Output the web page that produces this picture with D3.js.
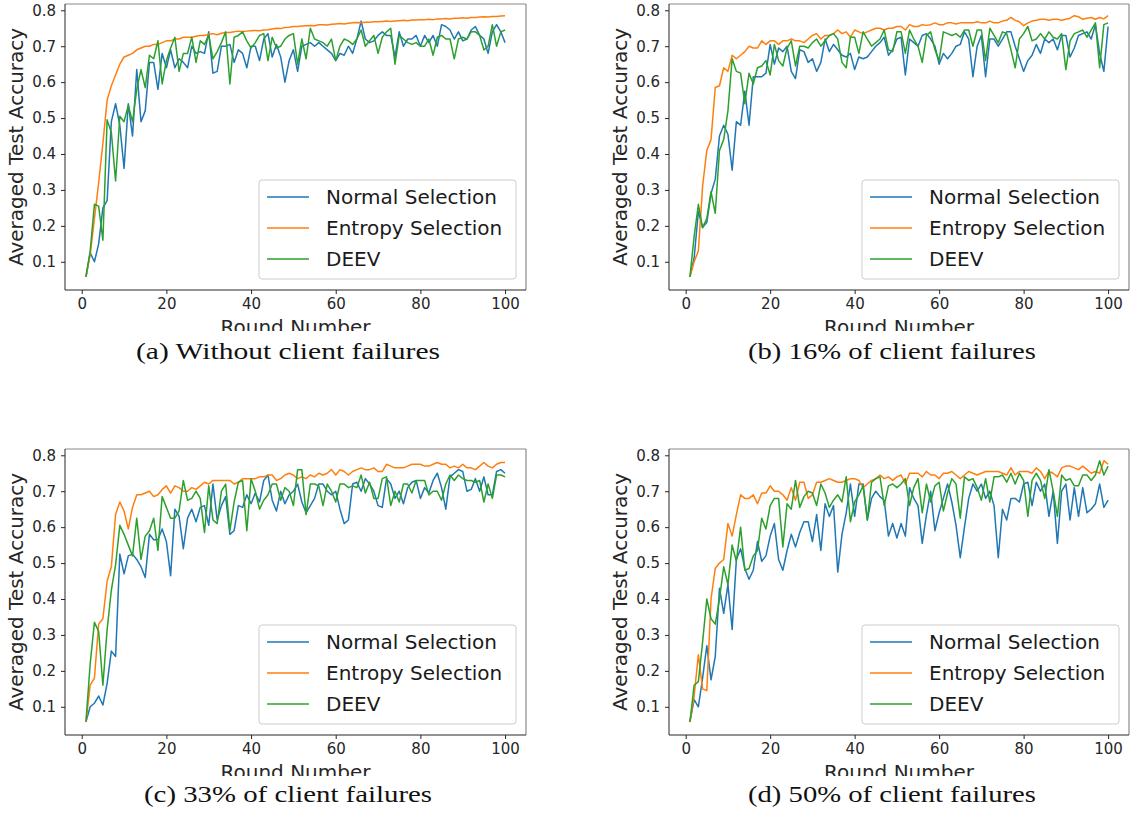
<!DOCTYPE html>
<html>
<head>
<meta charset="utf-8">
<script src="https://cdn.jsdelivr.net/npm/d3@7"></script>
<style>
  body { margin: 0; background: #fff; }
  svg { display: block; }
</style>
</head>
<body>
<div id="chart"></div>
<script>
// rounds on the x axis
const rounds = d3.range(1, 101);
const seriesNames = ["Normal Selection", "Entropy Selection", "DEEV"];
const seriesColors = ["#1f77b4", "#ff7f0e", "#2ca02c"];
const xTicks = [0, 20, 40, 60, 80, 100];
const yTicks = [0.1, 0.2, 0.3, 0.4, 0.5, 0.6, 0.7, 0.8];
const captions = [
  "(a) Without client failures",
  "(b) 16% of client failures",
  "(c) 33% of client failures",
  "(d) 50% of client failures"
];

// (a) without failures
const normalA = [0.058,0.125,0.10,0.15,0.25,0.27,0.49,0.54,0.48,0.36,
  0.54,0.45,0.635,0.49,0.52,0.655,0.655,0.58,0.68,0.64,
  0.69,0.64,0.665,0.655,0.64,0.70,0.68,0.685,0.68,0.74,
  0.625,0.63,0.70,0.70,0.705,0.655,0.69,0.68,0.64,0.70,
  0.70,0.66,0.72,0.735,0.67,0.705,0.67,0.60,0.66,0.69,
  0.63,0.70,0.705,0.71,0.70,0.71,0.70,0.69,0.68,0.66,
  0.68,0.675,0.70,0.68,0.72,0.77,0.72,0.71,0.715,0.73,
  0.74,0.73,0.73,0.67,0.74,0.70,0.72,0.72,0.73,0.70,
  0.73,0.71,0.73,0.70,0.76,0.755,0.745,0.72,0.74,0.715,
  0.72,0.745,0.755,0.73,0.72,0.68,0.74,0.76,0.74,0.71];
const entropyA = [0.058,0.12,0.22,0.32,0.43,0.55,0.59,0.62,0.65,0.67,
  0.675,0.68,0.69,0.695,0.70,0.70,0.705,0.705,0.71,0.715,
  0.715,0.72,0.72,0.725,0.725,0.725,0.728,0.73,0.73,0.733,
  0.735,0.732,0.736,0.738,0.738,0.74,0.742,0.741,0.742,0.743,
  0.744,0.743,0.745,0.746,0.748,0.75,0.749,0.752,0.753,0.755,
  0.755,0.756,0.757,0.758,0.757,0.76,0.76,0.759,0.761,0.762,
  0.763,0.762,0.764,0.765,0.766,0.765,0.767,0.767,0.768,0.768,
  0.769,0.77,0.769,0.77,0.771,0.772,0.771,0.773,0.773,0.774,
  0.774,0.775,0.774,0.776,0.776,0.777,0.776,0.778,0.778,0.779,
  0.778,0.78,0.78,0.781,0.782,0.781,0.783,0.783,0.784,0.785];
const deevA = [0.058,0.13,0.26,0.255,0.16,0.495,0.46,0.325,0.505,0.49,
  0.535,0.49,0.58,0.635,0.585,0.675,0.665,0.715,0.595,0.66,
  0.695,0.725,0.63,0.68,0.68,0.725,0.655,0.715,0.705,0.73,
  0.665,0.685,0.71,0.74,0.595,0.725,0.73,0.74,0.715,0.695,
  0.71,0.73,0.735,0.66,0.725,0.695,0.70,0.72,0.73,0.735,
  0.65,0.72,0.665,0.75,0.72,0.715,0.71,0.70,0.72,0.66,
  0.70,0.72,0.715,0.705,0.72,0.745,0.70,0.715,0.73,0.68,
  0.725,0.74,0.75,0.65,0.73,0.72,0.71,0.705,0.71,0.70,
  0.70,0.72,0.675,0.725,0.73,0.72,0.72,0.665,0.72,0.725,
  0.72,0.74,0.74,0.73,0.69,0.70,0.76,0.70,0.74,0.745];

// (b) 16% failures
const normalB = [0.058,0.11,0.24,0.195,0.21,0.29,0.33,0.45,0.48,0.455,
  0.355,0.49,0.48,0.575,0.48,0.615,0.615,0.615,0.625,0.705,
  0.65,0.695,0.685,0.70,0.63,0.61,0.69,0.685,0.655,0.665,
  0.63,0.655,0.72,0.685,0.705,0.69,0.675,0.67,0.68,0.635,
  0.67,0.665,0.67,0.685,0.70,0.71,0.725,0.675,0.69,0.72,
  0.725,0.62,0.72,0.71,0.70,0.73,0.735,0.72,0.70,0.65,
  0.68,0.665,0.68,0.70,0.705,0.74,0.72,0.615,0.70,0.73,
  0.615,0.72,0.72,0.70,0.72,0.74,0.74,0.70,0.665,0.63,
  0.66,0.675,0.705,0.68,0.72,0.71,0.72,0.69,0.73,0.73,
  0.67,0.695,0.73,0.735,0.74,0.72,0.76,0.68,0.63,0.755];
const entropyB = [0.058,0.10,0.13,0.31,0.41,0.44,0.585,0.59,0.64,0.63,
  0.675,0.665,0.675,0.685,0.70,0.695,0.695,0.715,0.705,0.715,
  0.715,0.705,0.715,0.715,0.72,0.715,0.715,0.71,0.72,0.73,
  0.735,0.72,0.73,0.73,0.735,0.745,0.735,0.74,0.725,0.745,
  0.74,0.735,0.74,0.745,0.75,0.75,0.745,0.75,0.75,0.755,
  0.755,0.745,0.76,0.755,0.755,0.76,0.758,0.76,0.765,0.76,
  0.76,0.765,0.765,0.762,0.765,0.765,0.765,0.765,0.768,0.765,
  0.765,0.77,0.765,0.765,0.77,0.772,0.78,0.772,0.768,0.757,
  0.765,0.77,0.772,0.775,0.775,0.772,0.775,0.775,0.772,0.775,
  0.778,0.785,0.782,0.775,0.778,0.78,0.775,0.78,0.776,0.785];
const deevB = [0.058,0.17,0.26,0.195,0.22,0.295,0.235,0.41,0.44,0.52,
  0.665,0.63,0.625,0.54,0.625,0.595,0.64,0.645,0.66,0.62,
  0.705,0.66,0.645,0.695,0.715,0.645,0.70,0.70,0.695,0.71,
  0.72,0.70,0.715,0.73,0.735,0.72,0.655,0.64,0.725,0.725,
  0.68,0.74,0.72,0.70,0.71,0.72,0.745,0.69,0.685,0.74,
  0.74,0.68,0.745,0.72,0.70,0.655,0.73,0.74,0.69,0.66,
  0.74,0.735,0.73,0.735,0.725,0.745,0.745,0.70,0.745,0.745,
  0.66,0.75,0.73,0.71,0.74,0.735,0.69,0.64,0.72,0.735,
  0.755,0.715,0.72,0.735,0.72,0.74,0.725,0.72,0.735,0.635,
  0.715,0.735,0.74,0.745,0.725,0.745,0.765,0.64,0.76,0.765];

// (c) 33% failures
const normalC = [0.058,0.10,0.11,0.13,0.105,0.165,0.255,0.24,0.525,0.47,
  0.52,0.525,0.51,0.49,0.46,0.58,0.565,0.565,0.595,0.56,
  0.465,0.65,0.63,0.54,0.625,0.65,0.615,0.655,0.66,0.605,
  0.72,0.62,0.66,0.685,0.58,0.59,0.66,0.655,0.69,0.665,
  0.695,0.67,0.73,0.745,0.675,0.645,0.70,0.665,0.69,0.70,
  0.72,0.67,0.64,0.66,0.68,0.72,0.72,0.70,0.69,0.70,
  0.65,0.61,0.62,0.72,0.725,0.70,0.735,0.72,0.70,0.66,
  0.655,0.735,0.72,0.68,0.70,0.665,0.71,0.725,0.73,0.68,
  0.71,0.695,0.73,0.75,0.71,0.65,0.74,0.75,0.76,0.755,
  0.70,0.705,0.735,0.70,0.74,0.69,0.69,0.755,0.76,0.75];
const entropyC = [0.058,0.16,0.18,0.33,0.345,0.45,0.49,0.635,0.67,0.645,
  0.595,0.655,0.69,0.69,0.695,0.70,0.685,0.69,0.705,0.715,
  0.695,0.715,0.71,0.70,0.70,0.71,0.705,0.715,0.725,0.72,
  0.73,0.73,0.73,0.73,0.73,0.72,0.725,0.735,0.735,0.735,
  0.735,0.74,0.74,0.745,0.745,0.73,0.735,0.745,0.75,0.745,
  0.735,0.74,0.735,0.745,0.74,0.75,0.745,0.75,0.76,0.745,
  0.76,0.755,0.745,0.755,0.76,0.765,0.76,0.76,0.765,0.755,
  0.755,0.775,0.77,0.765,0.765,0.765,0.77,0.775,0.775,0.775,
  0.77,0.77,0.775,0.78,0.775,0.775,0.765,0.77,0.765,0.775,
  0.765,0.765,0.76,0.77,0.78,0.77,0.765,0.775,0.78,0.78];
const deevC = [0.058,0.22,0.335,0.31,0.16,0.315,0.425,0.495,0.605,0.58,
  0.55,0.52,0.625,0.51,0.575,0.59,0.625,0.535,0.685,0.655,
  0.625,0.625,0.645,0.73,0.675,0.68,0.70,0.68,0.585,0.715,
  0.62,0.61,0.70,0.72,0.59,0.67,0.725,0.73,0.59,0.735,
  0.70,0.65,0.675,0.69,0.72,0.72,0.675,0.71,0.70,0.66,
  0.76,0.76,0.635,0.72,0.72,0.715,0.66,0.72,0.70,0.67,
  0.72,0.72,0.71,0.715,0.71,0.745,0.695,0.725,0.68,0.68,
  0.735,0.74,0.66,0.70,0.67,0.72,0.72,0.695,0.73,0.73,
  0.73,0.69,0.70,0.70,0.675,0.72,0.745,0.73,0.745,0.735,
  0.73,0.73,0.725,0.73,0.67,0.72,0.68,0.745,0.745,0.74];

// (d) 50% failures
const normalD = [0.058,0.12,0.10,0.18,0.27,0.175,0.24,0.43,0.36,0.44,
  0.315,0.51,0.54,0.485,0.455,0.48,0.56,0.505,0.52,0.575,
  0.61,0.51,0.48,0.535,0.58,0.545,0.585,0.615,0.615,0.56,
  0.635,0.535,0.665,0.63,0.66,0.475,0.58,0.64,0.72,0.63,
  0.72,0.72,0.62,0.68,0.70,0.685,0.675,0.575,0.61,0.57,
  0.61,0.575,0.71,0.68,0.66,0.555,0.635,0.70,0.59,0.64,
  0.68,0.72,0.67,0.605,0.515,0.60,0.68,0.72,0.70,0.72,
  0.68,0.70,0.66,0.515,0.65,0.62,0.68,0.68,0.67,0.72,
  0.725,0.66,0.725,0.70,0.72,0.63,0.70,0.555,0.70,0.72,
  0.62,0.71,0.63,0.71,0.64,0.65,0.665,0.72,0.655,0.675];
const entropyD = [0.058,0.13,0.245,0.15,0.145,0.40,0.485,0.50,0.51,0.61,
  0.575,0.635,0.69,0.68,0.68,0.69,0.665,0.695,0.695,0.715,
  0.70,0.70,0.69,0.675,0.71,0.675,0.725,0.725,0.68,0.69,
  0.725,0.725,0.73,0.735,0.73,0.725,0.725,0.73,0.735,0.735,
  0.73,0.71,0.72,0.73,0.735,0.745,0.735,0.74,0.73,0.74,
  0.745,0.72,0.75,0.75,0.75,0.74,0.755,0.745,0.745,0.735,
  0.75,0.75,0.755,0.745,0.735,0.745,0.755,0.75,0.745,0.75,
  0.755,0.755,0.755,0.755,0.75,0.745,0.765,0.745,0.755,0.755,
  0.755,0.75,0.765,0.755,0.735,0.755,0.75,0.74,0.765,0.77,
  0.77,0.765,0.76,0.77,0.76,0.75,0.755,0.75,0.785,0.775];
const deevD = [0.058,0.16,0.17,0.28,0.40,0.345,0.33,0.40,0.49,0.44,
  0.55,0.505,0.60,0.48,0.485,0.52,0.535,0.625,0.595,0.66,
  0.68,0.68,0.545,0.665,0.65,0.73,0.655,0.685,0.70,0.695,
  0.66,0.72,0.695,0.655,0.675,0.69,0.67,0.74,0.615,0.67,
  0.69,0.715,0.62,0.725,0.735,0.74,0.66,0.715,0.72,0.71,
  0.72,0.735,0.66,0.71,0.735,0.64,0.72,0.67,0.715,0.725,
  0.645,0.695,0.735,0.72,0.625,0.74,0.73,0.735,0.71,0.675,
  0.735,0.67,0.74,0.74,0.745,0.725,0.75,0.72,0.75,0.73,
  0.63,0.73,0.75,0.73,0.68,0.76,0.70,0.63,0.745,0.73,
  0.735,0.715,0.715,0.745,0.745,0.73,0.745,0.785,0.745,0.77];

const panelSeries = [
  [normalA, entropyA, deevA],
  [normalB, entropyB, deevB],
  [normalC, entropyC, deevC],
  [normalD, entropyD, deevD]
];

// layout
const W = 1130, H = 823;
const svg = d3.select("#chart").append("svg")
  .attr("width", W).attr("height", H);

const cols = [{l: 65, r: 526, cap: 288}, {l: 669, r: 1129, cap: 892}];
const rows = [{t: 4, b: 290, clip: 331, cap: 359}, {t: 449, b: 735, clip: 776, cap: 802}];

panelSeries.forEach((series, i) => {
  const c = cols[i % 2], rw = rows[Math.floor(i / 2)];

  const x = d3.scaleLinear().domain([-3.95, 104.95]).range([c.l, c.r]);
  const y = d3.scaleLinear().domain([0.0215, 0.8175]).range([rw.b, rw.t]);

  const g = svg.append("g");

  // lines
  const line = d3.line()
    .x((d, k) => x(rounds[k]))
    .y(d => y(d));

  series.forEach((vals, s) => {
    g.append("path")
      .datum(vals)
      .attr("d", line)
      .attr("fill", "none")
      .attr("stroke", seriesColors[s])
      .attr("stroke-width", 1.5)
      .attr("stroke-linejoin", "round");
  });

  // axes
  const xAxis = g.append("g")
    .attr("transform", `translate(0,${rw.b})`)
    .call(d3.axisBottom(x).tickValues(xTicks).tickSize(4).tickPadding(4));
  const yAxis = g.append("g")
    .attr("transform", `translate(${c.l},0)`)
    .call(d3.axisLeft(y).tickValues(yTicks).tickFormat(d3.format(".1f")).tickSize(4).tickPadding(5));

  [xAxis, yAxis].forEach(a => {
    a.select(".domain").remove();
    a.selectAll("text")
      .attr("font-family", "DejaVu Sans")
      .attr("font-size", 15)
      .attr("fill", "#262626");
    a.selectAll("line").attr("stroke", "#262626");
  });

  // spines
  g.append("line").attr("x1", c.l).attr("x2", c.r).attr("y1", rw.t).attr("y2", rw.t)
    .attr("stroke", "#8a8a8a").attr("stroke-width", 1.2);
  g.append("line").attr("x1", c.r).attr("x2", c.r).attr("y1", rw.t).attr("y2", rw.b)
    .attr("stroke", "#8a8a8a").attr("stroke-width", 1.2);
  g.append("line").attr("x1", c.l).attr("x2", c.l).attr("y1", rw.t).attr("y2", rw.b)
    .attr("stroke", "#262626").attr("stroke-width", 1);
  g.append("line").attr("x1", c.l).attr("x2", c.r).attr("y1", rw.b).attr("y2", rw.b)
    .attr("stroke", "#262626").attr("stroke-width", 1);

  // y label
  g.append("text")
    .attr("transform", `translate(${c.l - 42},${(rw.t + rw.b) / 2}) rotate(-90)`)
    .attr("text-anchor", "middle")
    .attr("font-family", "DejaVu Sans")
    .attr("font-size", 20)
    .attr("fill", "#262626")
    .text("Averaged Test Accuracy");

  // x label, cut off at the bottom like the source figure
  const clipId = "clip" + i;
  svg.append("clipPath").attr("id", clipId)
    .append("rect").attr("x", c.l - 70).attr("y", rw.b).attr("width", c.r - c.l + 80).attr("height", rw.clip - rw.b);
  g.append("text")
    .attr("clip-path", `url(#${clipId})`)
    .attr("x", (c.l + c.r) / 2)
    .attr("y", rw.b + 44)
    .attr("text-anchor", "middle")
    .attr("font-family", "DejaVu Sans")
    .attr("font-size", 20)
    .attr("fill", "#262626")
    .text("Round Number");

  // legend
  const lw = 257, lh = 99;
  const lx = c.r - 10 - lw, ly = rw.b - 11 - lh;
  const leg = g.append("g").attr("transform", `translate(${lx},${ly})`);
  leg.append("rect")
    .attr("width", lw).attr("height", lh).attr("rx", 3)
    .attr("fill", "#fff").attr("fill-opacity", 0.8)
    .attr("stroke", "#cccccc").attr("stroke-width", 1);
  seriesNames.forEach((name, s) => {
    const yy = 17 + s * 31;
    leg.append("line")
      .attr("x1", 8).attr("x2", 50).attr("y1", yy).attr("y2", yy)
      .attr("stroke", seriesColors[s]).attr("stroke-width", 1.5);
    leg.append("text")
      .attr("x", 67).attr("y", yy + 7)
      .attr("font-family", "DejaVu Sans")
      .attr("font-size", 20)
      .attr("fill", "#1a1a1a")
      .text(name);
  });

  // caption
  svg.append("text")
    .attr("x", c.cap)
    .attr("y", rw.cap)
    .attr("text-anchor", "middle")
    .attr("font-family", "Liberation Serif")
    .attr("font-size", 24)
    .attr("fill", "#111")
    .attr("textLength", i === 0 ? 304 : 288)
    .attr("lengthAdjust", "spacingAndGlyphs")
    .text(captions[i]);
});
</script>
</body>
</html>
